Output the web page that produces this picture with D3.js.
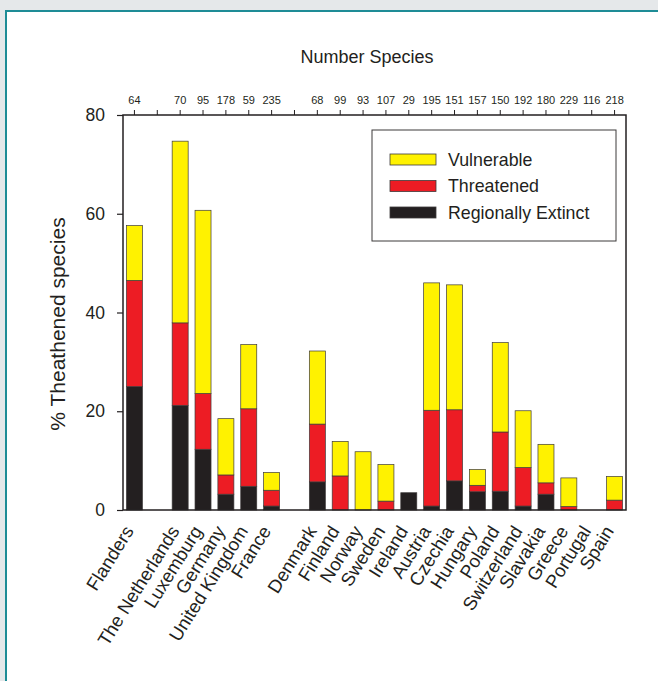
<!DOCTYPE html>
<html lang="en">
<head>
<meta charset="UTF-8">
<title>Threatened species</title>
<script src="https://cdn.jsdelivr.net/npm/d3@7"></script>
<style>
  html, body { margin: 0; padding: 0; background: #e5e8ea; }
  svg { display: block; font-family: "Liberation Sans", Arial, sans-serif; }
</style>
</head>
<body>
<script>
// categories in plot order, "" marks the empty slots between groups
var countries = ["Flanders", "", "The Netherlands", "Luxemburg", "Germany", "United Kingdom", "France", "",
  "Denmark", "Finland", "Norway", "Sweden", "Ireland", "Austria", "Czechia", "Hungary", "Poland",
  "Switzerland", "Slavakia", "Greece", "Portugal", "Spain"];
var species = [64, null, 70, 95, 178, 59, 235, null,
  68, 99, 93, 107, 29, 195, 151, 157, 150, 192, 180, 229, 116, 218];
// % of species per category (segments, stacked bottom to top)
var extinct    = [25.0, 0, 21.2, 12.3, 3.2, 4.8, 0.8, 0, 5.7, 0, 0, 0, 3.5, 0.8, 5.9, 3.7, 3.8, 0.8, 3.2, 0, 0, 0];
var threatened = [21.5, 0, 16.7, 11.3, 3.9, 15.7, 3.2, 0, 11.7, 6.9, 0, 1.8, 0, 19.4, 14.4, 1.3, 12.0, 7.8, 2.3, 0.7, 0, 2.0];
var vulnerable = [11.1, 0, 36.8, 37.1, 11.4, 13.0, 3.6, 0, 14.8, 7.0, 11.8, 7.4, 0, 25.8, 25.3, 3.2, 18.1, 11.5, 7.8, 5.8, 0, 4.8];
var yTicks = [0, 20, 40, 60, 80];

var seriesKeys = ["extinct", "threatened", "vulnerable"];
var seriesNames = {extinct: "Regionally Extinct", threatened: "Threatened", vulnerable: "Vulnerable"};
var colors = {extinct: "#231f20", threatened: "#ed1c24", vulnerable: "#fff200"};

var rows = countries.map(function(c, i) {
  return {i: i, name: c, extinct: extinct[i], threatened: threatened[i], vulnerable: vulnerable[i]};
});

var W = 658, H = 681;
var pLeft = 123, pRight = 626, pTop = 115, pBottom = 510;

var svg = d3.select("body").append("svg").attr("width", W).attr("height", H);

// teal panel
svg.append("rect")
  .attr("x", 6).attr("y", 11).attr("width", W + 10).attr("height", H + 10)
  .attr("fill", "#fff").attr("stroke", "#1e8c96").attr("stroke-width", 2);

var x = d3.scaleBand()
  .domain(d3.range(countries.length))
  .range([pLeft, pRight])
  .paddingInner(0.3)
  .paddingOuter(0.15);

var y = d3.scaleLinear().domain([0, 80]).range([pBottom, pTop]);

var stacked = d3.stack().keys(seriesKeys)(rows);

// bars
svg.append("g").selectAll("g")
  .data(stacked)
  .enter().append("g")
    .attr("fill", function(d) { return colors[d.key]; })
  .selectAll("rect")
  .data(function(d) { return d.filter(function(s) { return s[1] - s[0] > 0; }); })
  .enter().append("rect")
    .attr("x", function(d) { return x(d.data.i); })
    .attr("width", x.bandwidth())
    .attr("y", function(d) { return y(d[1]); })
    .attr("height", function(d) { return y(d[0]) - y(d[1]); })
    .attr("stroke", "#3d3a3a")
    .attr("stroke-width", 0.7);

// frame
svg.append("rect")
  .attr("x", pLeft).attr("y", pTop)
  .attr("width", pRight - pLeft).attr("height", pBottom - pTop)
  .attr("fill", "none").attr("stroke", "#231f20").attr("stroke-width", 1.5);

// left axis
var yAxis = svg.append("g")
  .attr("transform", "translate(" + pLeft + ",0)")
  .call(d3.axisLeft(y).tickValues(yTicks).tickSize(6).tickPadding(12).tickSizeOuter(0));
yAxis.select(".domain").remove();
yAxis.selectAll("line").attr("stroke", "#231f20").attr("stroke-width", 1.2);
yAxis.selectAll("text").attr("font-size", 17.5).attr("fill", "#231f20").attr("font-family", null);

// top axis, number of species
var topAxis = svg.append("g")
  .attr("transform", "translate(0," + pTop + ")")
  .call(d3.axisTop(x).tickSize(5).tickPadding(6).tickSizeOuter(0)
    .tickFormat(function(i) { return species[i] == null ? "" : species[i]; }));
topAxis.select(".domain").remove();
topAxis.selectAll("line").attr("stroke", "#231f20").attr("stroke-width", 1);
topAxis.selectAll("text").attr("font-size", 11).attr("fill", "#231f20").attr("font-family", null);

svg.append("text")
  .attr("x", 367).attr("y", 63)
  .attr("text-anchor", "middle")
  .attr("font-size", 18)
  .attr("fill", "#231f20")
  .text("Number Species");

// country labels
svg.append("g").selectAll("text")
  .data(rows.filter(function(d) { return d.name !== ""; }))
  .enter().append("text")
    .attr("transform", function(d) {
      return "translate(" + (x(d.i) + x.bandwidth() / 2) + "," + (pBottom + 21) + ") rotate(-58)";
    })
    .attr("text-anchor", "end")
    .attr("font-size", 18.5)
    .attr("fill", "#231f20")
    .text(function(d) { return d.name; });

// y title
svg.append("text")
  .attr("transform", "translate(65,324) rotate(-90)")
  .attr("text-anchor", "middle")
  .attr("font-size", 21)
  .attr("fill", "#231f20")
  .text("% Theathened species");

// legend
var legend = svg.append("g");
legend.append("rect")
  .attr("x", 372).attr("y", 130).attr("width", 244).attr("height", 111)
  .attr("fill", "#fff").attr("stroke", "#3d3a3a").attr("stroke-width", 1);

var legendItems = legend.selectAll("g.item")
  .data(seriesKeys.slice().reverse())
  .enter().append("g")
    .attr("class", "item")
    .attr("transform", function(d, i) { return "translate(390," + (159.5 + i * 26.5) + ")"; });
legendItems.append("rect")
  .attr("x", 0).attr("y", -5.5).attr("width", 46).attr("height", 11)
  .attr("fill", function(d) { return colors[d]; })
  .attr("stroke", "#3d3a3a").attr("stroke-width", 0.8);
legendItems.append("text")
  .attr("x", 58).attr("y", 0).attr("dy", "0.36em")
  .attr("font-size", 17.8)
  .attr("fill", "#231f20")
  .text(function(d) { return seriesNames[d]; });
</script>
</body>
</html>
